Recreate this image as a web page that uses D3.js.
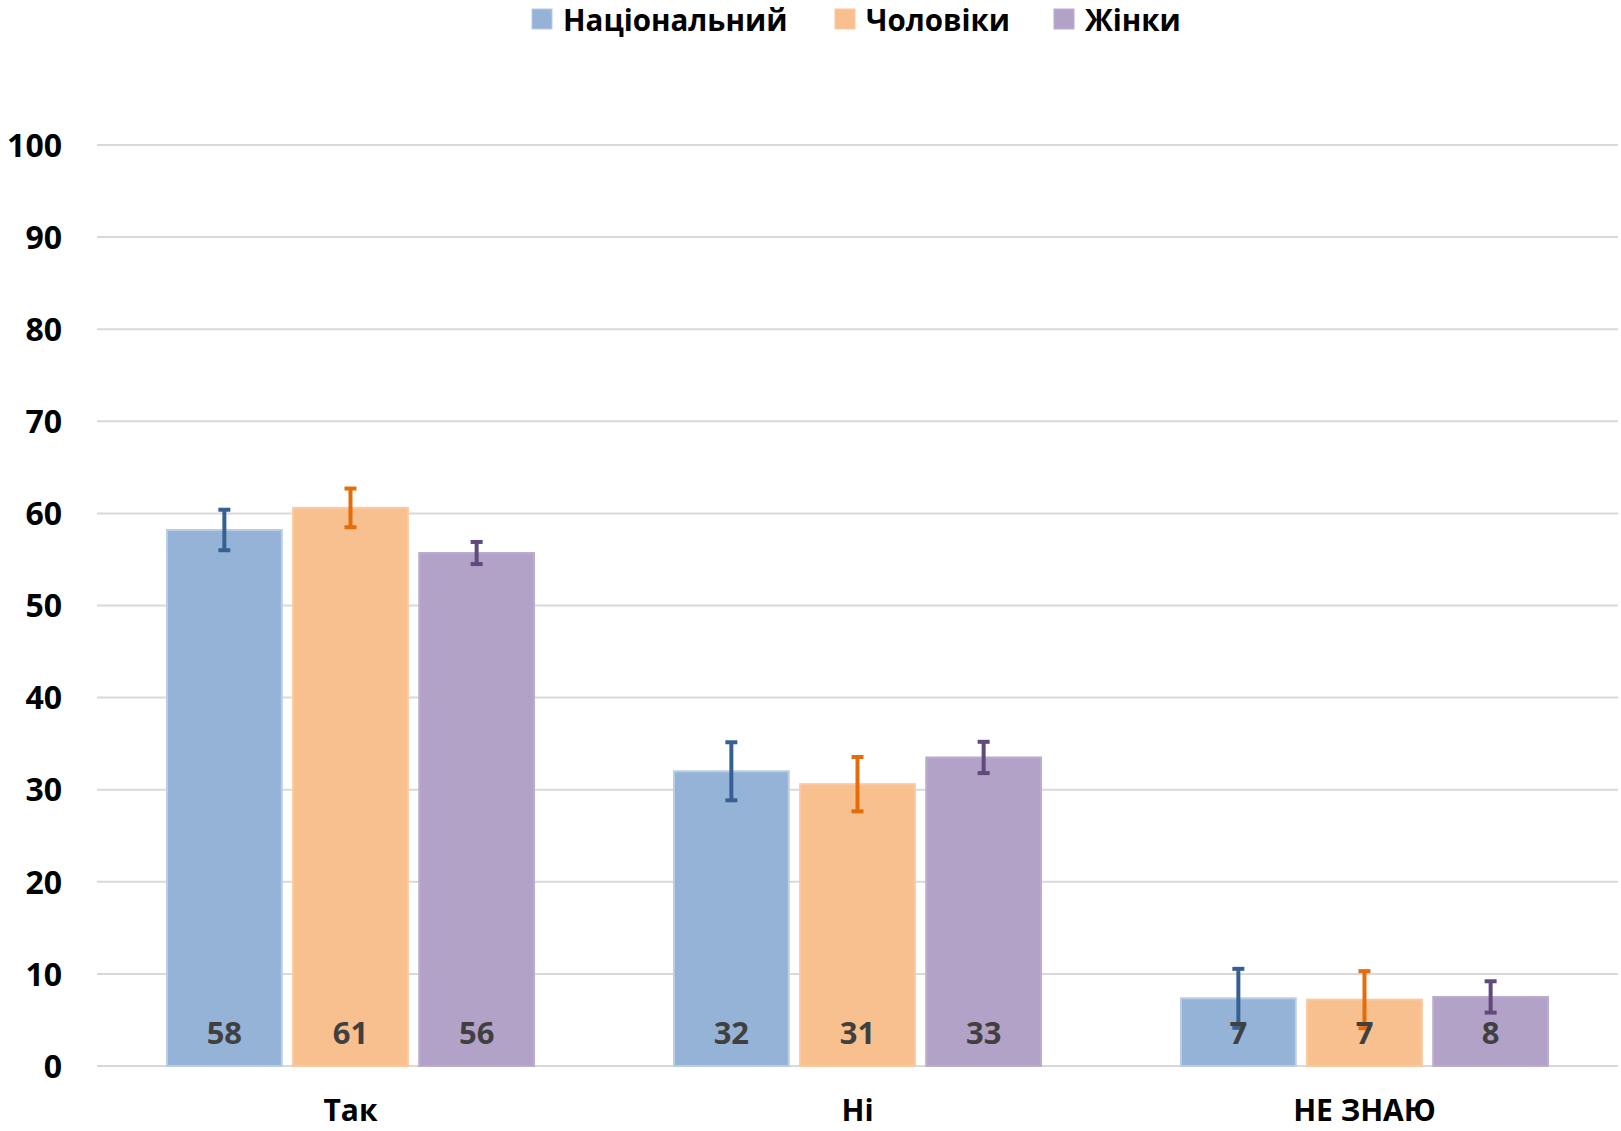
<!DOCTYPE html>
<html><head><meta charset="utf-8">
<script src="https://cdn.jsdelivr.net/npm/d3@7"></script>
<style>body{margin:0;background:#fff}svg{display:block}text{font-family:"Open Sans","Noto Sans",sans-serif;font-weight:700}</style>
</head><body><svg id="c" width="1621" height="1131"></svg>
<script>
const categories = ["Так", "Ні", "НЕ ЗНАЮ"];
const seriesNames = ["Національний", "Чоловіки", "Жінки"];
const national = [58.2, 32.0, 7.35];
const men = [60.6, 30.6, 7.2];
const women = [55.7, 33.5, 7.5];
const nationalErr = [2.2, 3.15, 3.2];
const menErr = [2.1, 2.95, 3.1];
const womenErr = [1.2, 1.7, 1.7];
const nationalLabels = ["58", "32", "7"];
const menLabels = ["61", "31", "7"];
const womenLabels = ["56", "33", "8"];
const yTicks = [0, 10, 20, 30, 40, 50, 60, 70, 80, 90, 100];

(function () {
const fills = ["#95B3D7", "#F9C08F", "#B3A2C7"];
const strokes = ["#B9CDE5", "#FAC9A0", "#BBACCE"];
const errColors = ["#376092", "#E46C0A", "#604A7B"];

const series = [
  {name: seriesNames[0], values: national, err: nationalErr, labels: nationalLabels},
  {name: seriesNames[1], values: men, err: menErr, labels: menLabels},
  {name: seriesNames[2], values: women, err: womenErr, labels: womenLabels}
];

const svg = d3.select("#c");
const pl = 97, pr = 1618, pt = 145, pb = 1066;
const y = d3.scaleLinear().domain([0, 100]).range([pb, pt]);
const x0 = d3.scaleBand().domain(categories).range([pl, pr]).paddingInner(0.276).paddingOuter(0.138);
const x1 = d3.scaleBand().domain(seriesNames).range([0, x0.bandwidth()]).paddingInner(0.09);

svg.append("g").selectAll("line").data(yTicks).join("line")
  .attr("x1", pl).attr("x2", pr)
  .attr("y1", d => y(d)).attr("y2", d => y(d))
  .attr("stroke", "#D9D9D9").attr("stroke-width", 2);

const yAxis = d3.axisLeft(y).tickValues(yTicks).tickSize(0).tickPadding(0);
const ya = svg.append("g").attr("transform", "translate(62,0)").call(yAxis);
ya.select(".domain").remove();
ya.selectAll("text").attr("font-size", 32).attr("fill", "#000").attr("dy", "0.35em")
  .style("font-family", '"Open Sans","Noto Sans",sans-serif').style("font-weight", 700);

const xAxis = d3.axisBottom(x0).tickSize(0).tickPadding(0);
const xa = svg.append("g").attr("transform", "translate(0,1121)").call(xAxis);
xa.select(".domain").remove();
xa.selectAll("text").attr("font-size", 30).attr("fill", "#000").attr("y", 0).attr("dy", 0)
  .style("font-family", '"Open Sans","Noto Sans",sans-serif').style("font-weight", 700);

series.forEach((s, si) => {
  svg.append("g").selectAll("rect").data(categories).join("rect")
    .attr("x", c => x0(c) + x1(s.name))
    .attr("y", (c, i) => y(s.values[i]))
    .attr("width", x1.bandwidth())
    .attr("height", (c, i) => pb - y(s.values[i]))
    .attr("fill", fills[si]).attr("stroke", strokes[si]).attr("stroke-width", 2);
});
series.forEach((s, si) => {
  const g = svg.append("g").attr("stroke", errColors[si]).attr("stroke-width", 4);
  categories.forEach((c, i) => {
    const cx = x0(c) + x1(s.name) + x1.bandwidth() / 2;
    const hi = y(s.values[i] + s.err[i]), lo = y(s.values[i] - s.err[i]);
    g.append("line").attr("x1", cx).attr("x2", cx).attr("y1", hi).attr("y2", lo);
    g.append("line").attr("x1", cx - 6).attr("x2", cx + 6).attr("y1", hi).attr("y2", hi);
    g.append("line").attr("x1", cx - 6).attr("x2", cx + 6).attr("y1", lo).attr("y2", lo);
  });
});
series.forEach((s, si) => {
  svg.append("g").selectAll("text").data(categories).join("text")
    .attr("x", c => x0(c) + x1(s.name) + x1.bandwidth() / 2)
    .attr("y", 1033).attr("dy", "0.35em")
    .attr("text-anchor", "middle").attr("font-size", 31).attr("fill", "#404040")
    .text((c, i) => s.labels[i]);
});

const legendX = [532, 835, 1054];
const lg = svg.append("g");
seriesNames.forEach((n, i) => {
  lg.append("rect").attr("x", legendX[i]).attr("y", 9).attr("width", 20).attr("height", 20)
    .attr("fill", fills[i]).attr("stroke", strokes[i]).attr("stroke-width", 1);
  lg.append("text").attr("x", legendX[i] + 31).attr("y", 21).attr("dy", "0.35em")
    .attr("font-size", 29.5).attr("fill", "#000").text(n);
});
})();
</script></body></html>
